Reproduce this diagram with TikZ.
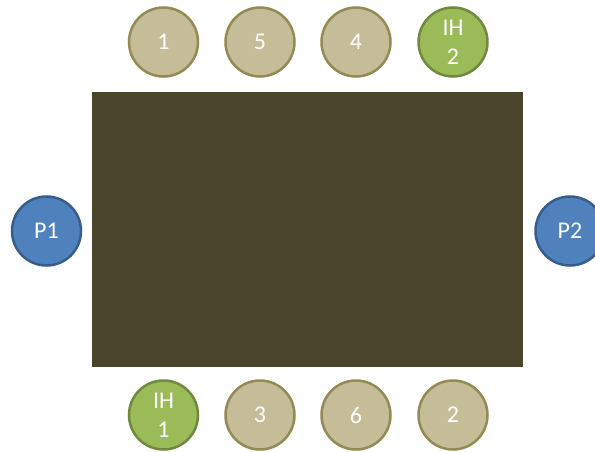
\documentclass[tikz,border=0pt]{standalone}
\usepackage{fontspec}
\setmainfont{Carlito}
\definecolor{tanfill}{HTML}{C4BD97}
\definecolor{tanline}{HTML}{948A54}
\definecolor{grnfill}{HTML}{9BBB59}
\definecolor{grnline}{HTML}{71893F}
\definecolor{blufill}{HTML}{4F81BD}
\definecolor{bluline}{HTML}{385D8A}
\definecolor{table}{HTML}{4A442A}
\begin{document}
\begin{tikzpicture}[x=1pt,y=-1pt,
  seat/.style={circle,minimum size=69pt,inner sep=0pt,line width=2.5pt,text=white,
    font=\fontsize{24}{29}\selectfont,align=center},
  tan/.style={seat,fill=tanfill,draw=tanline},
  grn/.style={seat,fill=grnfill,draw=grnline},
  blu/.style={seat,fill=blufill,draw=bluline}]
\useasboundingbox (0,0) rectangle (595,452);
\fill[table] (92,92) rectangle (523,367);
\node[tan] (t1) at (163.5,42) {1};
\node[tan] (t5) at (260,42) {5};
\node[tan] (t4) at (356,42) {4};
\node[grn] (ih2) at (453,42) {IH\\2};
\node[blu] (p1) at (46.5,231) {P1};
\node[blu] (p2) at (570,231) {P2};
\node[grn] (ih1) at (163.5,415) {IH\\1};
\node[tan] (b3) at (260,415) {3};
\node[tan] (b6) at (356,415) {6};
\node[tan] (b2) at (453,415) {2};
\end{tikzpicture}
\end{document}
